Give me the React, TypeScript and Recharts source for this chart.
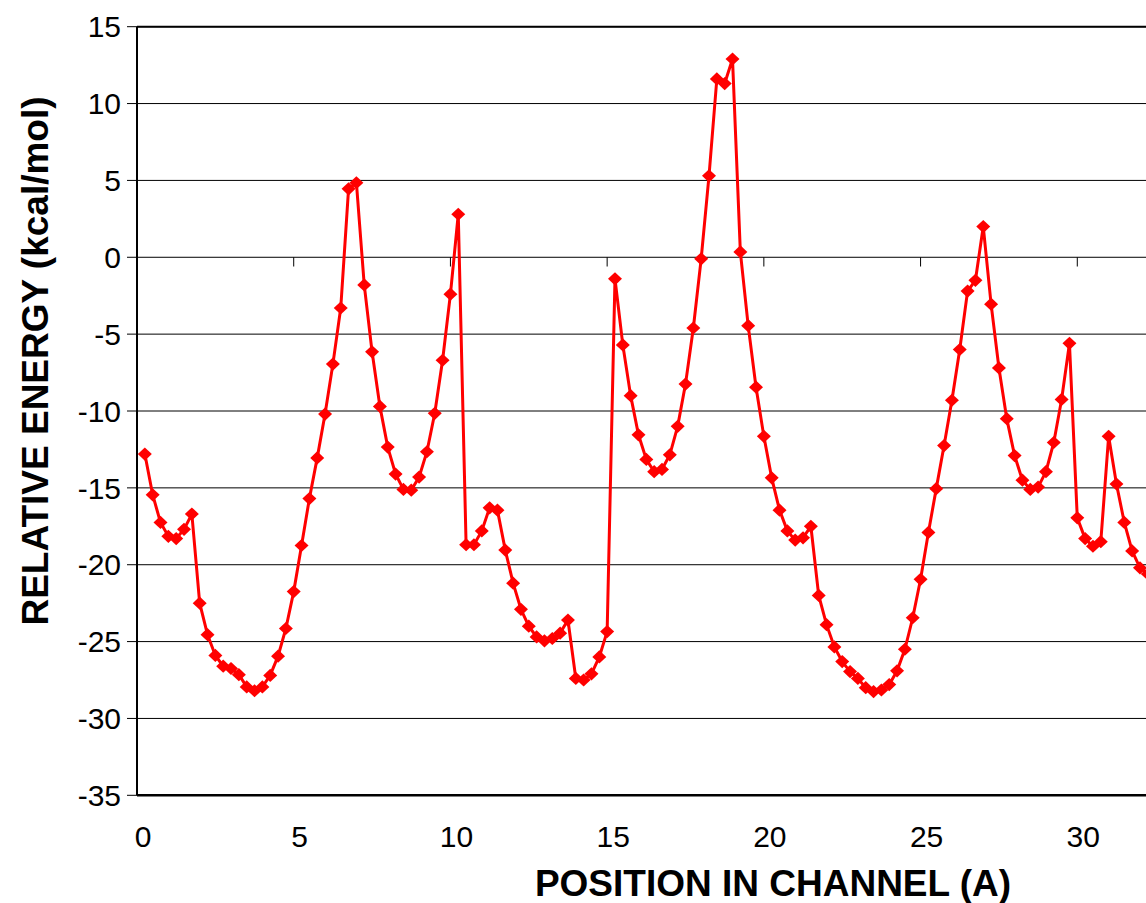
import {
  LineChart,
  Line,
  XAxis,
  YAxis,
  CartesianGrid,
  ReferenceLine,
  Label,
} from "recharts";

// energy read every 0.25 A along the channel, starting at 0.25 A
const POSITION_STEP = 0.25;

const energies = [
  -12.8, -15.45, -17.25, -18.15, -18.3, -17.7, -16.7, -22.5, -24.55, -25.9,
  -26.6, -26.75, -27.15, -27.95, -28.2, -27.95, -27.2, -25.95, -24.15, -21.75,
  -18.75, -15.7, -13.05, -10.2, -6.95, -3.3, 4.45, 4.85, -1.8, -6.15,
  -9.7, -12.35, -14.1, -15.1, -15.15, -14.3, -12.65, -10.15, -6.7, -2.4,
  2.8, -18.7, -18.7, -17.8, -16.3, -16.45, -19.05, -21.2, -22.9, -24.0,
  -24.7, -24.95, -24.8, -24.45, -23.6, -27.4, -27.5, -27.1, -26.0, -24.35,
  -1.4, -5.7, -9.0, -11.55, -13.15, -13.95, -13.8, -12.85, -11.0, -8.25,
  -4.6, -0.1, 5.3, 11.6, 11.3, 12.9, 0.35, -4.45, -8.45, -11.65,
  -14.35, -16.45, -17.8, -18.4, -18.25, -17.5, -22.0, -23.9, -25.35, -26.3,
  -26.95, -27.4, -28.0, -28.25, -28.15, -27.8, -26.9, -25.5, -23.45, -20.95,
  -17.9, -15.05, -12.25, -9.3, -6.0, -2.2, -1.5, 2.0, -3.05, -7.2,
  -10.5, -12.9, -14.5, -15.1, -14.95, -13.95, -12.05, -9.25, -5.6, -16.95,
  -18.3, -18.8, -18.5, -11.65, -14.75, -17.25, -19.1, -20.2, -20.6,
];

const xTicks = [0, 5, 10, 15, 20, 25, 30];
const yTicks = [-35, -30, -25, -20, -15, -10, -5, 0, 5, 10, 15];

const data = energies.map((e, i) => ({ x: (i + 1) * POSITION_STEP, e }));

const FONT = "'Liberation Sans', Arial, sans-serif";

function Diamond(props: any) {
  const { cx, cy, index } = props;
  if (cx == null || cy == null) return null;
  const w = 7;
  const h = 6.6;
  return (
    <polygon
      key={`dm-${index}`}
      points={`${cx},${cy - h} ${cx + w},${cy} ${cx},${cy + h} ${cx - w},${cy}`}
      fill="#FF0000"
      stroke="none"
    />
  );
}

function XTick(props: any) {
  const { x, y, payload } = props;
  return (
    <text
      x={x + 6}
      y={y}
      dy="0.71em"
      textAnchor="middle"
      fill="#000"
      fontSize={30}
      fontFamily={FONT}
    >
      {payload.value}
    </text>
  );
}

function YTick(props: any) {
  const { x, y, payload } = props;
  return (
    <text
      x={x}
      y={y}
      dy="0.355em"
      textAnchor="end"
      fill="#000"
      fontSize={30}
      fontFamily={FONT}
    >
      {payload.value}
    </text>
  );
}

function YTitle() {
  return (
    <text
      x={48}
      y={361}
      transform="rotate(-90, 48, 361)"
      textAnchor="middle"
      fontSize={37}
      fontWeight="bold"
      fontFamily={FONT}
      fill="#000"
    >
      RELATIVE ENERGY (kcal/mol)
    </text>
  );
}

function XTitle() {
  return (
    <text
      x={773}
      y={896}
      textAnchor="middle"
      fontSize={37}
      fontWeight="bold"
      fontFamily={FONT}
      fill="#000"
    >
      POSITION IN CHANNEL (A)
    </text>
  );
}

export default function App() {
  return (
    <div
      style={{
        position: "relative",
        width: 1146,
        height: 903,
        overflow: "hidden",
        background: "#fff",
      }}
    >
      <style>{`body { margin: 0; }`}</style>
      <LineChart
        width={1250}
        height={903}
        data={data}
        margin={{ top: 26.7, right: 16, bottom: 47.7, left: 37 }}
      >
        <CartesianGrid vertical={false} stroke="#000" strokeWidth={1} />
        <XAxis
          type="number"
          dataKey="x"
          domain={[0, 35]}
          ticks={xTicks}
          interval={0}
          height={60}
          tickLine={false}
          tickSize={0}
          tickMargin={30}
          axisLine={{ stroke: "#000", strokeWidth: 2.5 }}
          tick={<XTick />}
        >
          <Label content={<XTitle />} />
        </XAxis>
        <YAxis
          type="number"
          domain={[-35, 15]}
          ticks={yTicks}
          interval={0}
          width={100}
          tickSize={10}
          tickMargin={6}
          tickLine={{ stroke: "#000", strokeWidth: 1 }}
          axisLine={{ stroke: "#000", strokeWidth: 2 }}
          tick={<YTick />}
        >
          <Label content={<YTitle />} />
        </YAxis>
        <ReferenceLine y={15} stroke="#000" strokeWidth={2} />
        {xTicks.map((t) => (
          <ReferenceLine
            key={`zt-${t}`}
            segment={[
              { x: t, y: 0 },
              { x: t, y: -0.6 },
            ]}
            stroke="#000"
            strokeWidth={1}
          />
        ))}
        <Line
          type="linear"
          dataKey="e"
          stroke="#FF0000"
          strokeWidth={3}
          dot={<Diamond />}
          activeDot={false}
          isAnimationActive={false}
        />
      </LineChart>
    </div>
  );
}
